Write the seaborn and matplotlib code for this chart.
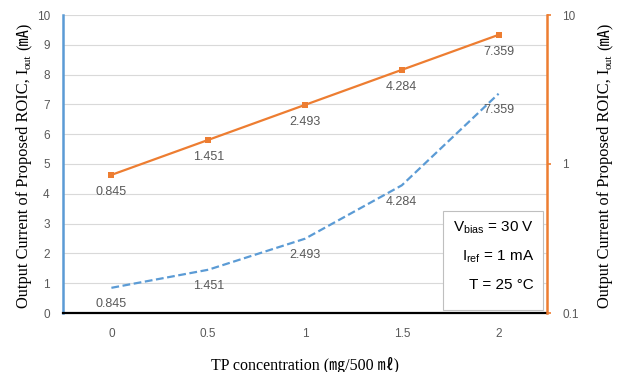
import matplotlib
matplotlib.use("Agg")
import matplotlib.pyplot as plt
import matplotlib.transforms as mtrans
import seaborn as sns
from matplotlib.patches import Rectangle

# ---- data ----
tp_conc = [0, 0.5, 1, 1.5, 2]
iout_linear = [0.845, 1.451, 2.493, 4.284, 7.359]
iout_log = [0.845, 1.451, 2.493, 4.284, 7.359]
x_ticks = [0, 0.5, 1, 1.5, 2]
x_ticklabels = ["0", "0.5", "1", "1.5", "2"]
left_ticks = list(range(0, 11))
right_ticks = [0.1, 1, 10]
right_ticklabels = ["0.1", "1", "10"]
box_lines = [r"V$\mathregular{_{bias}}$ = 30 V", r"I$\mathregular{_{ref}}$ = 1 mA", "T = 25 °C"]
ylabel_parts = ["Output Current of Proposed ROIC, I", "out", "(㎃)"]
xlabel_text = "TP concentration (㎎/500 ㎖)"

sns.set_theme(style="white")
plt.rcParams['font.family'] = ['Liberation Sans', 'DejaVu Sans']
plt.rcParams['mathtext.default'] = 'regular'

BLUE = "#5B9BD5"
ORANGE = "#ED7D31"
GRAY = "#595959"
serif = ['Liberation Serif', 'Noto Sans CJK KR', 'DejaVu Sans']

W, H = 621, 372
fig = plt.figure(figsize=(W/100, H/100), dpi=100)
ax = fig.add_axes([63/W, 1-313/H, 484/W, 298/H])
ax2 = ax.twinx()

sns.lineplot(x=tp_conc, y=iout_linear, ax=ax, color=BLUE, lw=1.6,
             linestyle=(0, (3.5, 1.6)))
sns.lineplot(x=tp_conc, y=iout_log, ax=ax2, color=ORANGE, lw=1.6,
             marker='s', markersize=4, markeredgewidth=0)

ax.set_xlim(-0.25, 2.25)
ax.set_ylim(0, 10)
ax.set_yticks(left_ticks)
ax.set_xticks(x_ticks)
ax.set_xticklabels(x_ticklabels)
ax.grid(axis='y', color='#D9D9D9', lw=0.8)
ax.grid(axis='x', visible=False)
ax.set_axisbelow(True)

ax2.set_yscale('log')
ax2.set_ylim(0.1, 10)
ax2.set_yticks(right_ticks)
ax2.set_yticklabels(right_ticklabels)
ax2.yaxis.set_minor_locator(matplotlib.ticker.NullLocator())
ax2.grid(False)

ax.tick_params(axis='y', length=0, pad=9.5, labelsize=8.5, labelcolor=GRAY)
ax.tick_params(axis='x', length=0, pad=11, labelsize=8.5, labelcolor=GRAY)
ax2.tick_params(axis='y', which='major', length=3, width=1.2, color=ORANGE,
                direction='out', pad=8, labelsize=8.5, labelcolor=GRAY)

for s in ['top', 'right']:
    ax.spines[s].set_visible(False)
ax.spines['left'].set_color(BLUE)
ax.spines['left'].set_linewidth(1.8)
ax.spines['bottom'].set_color('black')
ax.spines['bottom'].set_linewidth(1.6)
for s in ['top', 'left', 'bottom']:
    ax2.spines[s].set_visible(False)
ax2.spines['right'].set_color(ORANGE)
ax2.spines['right'].set_linewidth(1.8)

# data labels
for xv, yv in zip(tp_conc, iout_linear):
    ax.annotate(f"{yv:.3f}", (xv, yv), xytext=(0, -12), textcoords='offset points',
                ha='center', va='center', fontsize=9, color=GRAY)
for xv, yv in zip(tp_conc, iout_log):
    ax2.annotate(f"{yv:.3f}", (xv, yv), xytext=(0, -12.5), textcoords='offset points',
                 ha='center', va='center', fontsize=9, color=GRAY)

ax.set_xlabel(xlabel_text, fontsize=11.5, family=serif, labelpad=11, color='black')

# vertical y labels built from pieces (so the ㎃ glyph can fall back to a CJK font)
renderer = fig.canvas.get_renderer()
ident = mtrans.IdentityTransform()
main_fs, sub_fs = 11.8, 8.2


def measure(s, fs):
    t = fig.text(0, 0, s, fontsize=fs, family=serif)
    w = t.get_window_extent(renderer).width
    t.remove()
    return w


w_main = measure(ylabel_parts[0], main_fs)
w_sub = measure(ylabel_parts[1], sub_fs)
w_unit = measure(ylabel_parts[2], main_fs)
gap = 4.0
total = w_main + w_sub + gap + w_unit
yc = H - (18 + 313) / 2


def vlabel(x_base):
    y0 = yc - total / 2
    kw = dict(rotation=90, rotation_mode='anchor', ha='left', va='baseline',
              transform=ident, family=serif, color='black')
    fig.text(x_base, y0, ylabel_parts[0], fontsize=main_fs, **kw)
    fig.text(x_base + 3.0, y0 + w_main, ylabel_parts[1], fontsize=sub_fs, **kw)
    fig.text(x_base, y0 + w_main + w_sub + gap, ylabel_parts[2], fontsize=main_fs, **kw)


vlabel(28)
vlabel(609)

# annotation box
bx0, bx1 = 0.785, 0.992
by0, by1 = 0.01, 0.342
ax2.add_patch(Rectangle((bx0, by0), bx1-bx0, by1-by0, transform=ax2.transAxes,
                        facecolor='white', edgecolor='#BFBFBF', lw=0.8, zorder=5))
for txt, yy in zip(box_lines, [0.285, 0.19, 0.093]):
    ax2.text(0.973, yy, txt, transform=ax2.transAxes, ha='right', va='center',
             fontsize=11, color='black', zorder=6)

fig.savefig("out.png", dpi=100)
